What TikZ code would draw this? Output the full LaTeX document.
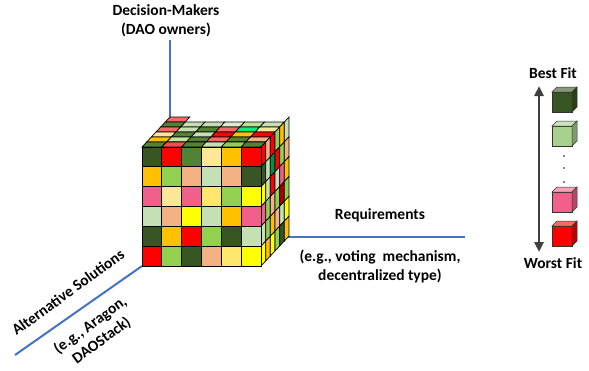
\documentclass[tikz,border=0pt]{standalone}
\usepackage{fontspec}
\setmainfont{Carlito}
\usetikzlibrary{arrows.meta,calc}

\definecolor{dkgreen}{HTML}{375623}
\definecolor{mdgreen}{HTML}{548235}
\definecolor{ltgreen}{HTML}{92D050}
\definecolor{plgreen}{HTML}{C5E0B4}
\definecolor{brgreen}{HTML}{00F07A}
\definecolor{gold}{HTML}{FFC000}
\definecolor{ltyellow}{HTML}{FFE699}
\definecolor{myyellow}{HTML}{FFFF00}
\definecolor{mdyellow}{HTML}{FFE66D}
\definecolor{salmon}{HTML}{F4B183}
\definecolor{pink}{HTML}{F0608A}
\definecolor{myred}{HTML}{FF0000}
\definecolor{fitgreen}{HTML}{A9D18E}
\definecolor{axisblue}{HTML}{4472C4}
\definecolor{arrowgray}{HTML}{404040}

\tikzset{
  lbl/.style={font=\bfseries\fontsize{15.5}{19}\selectfont, align=center, inner sep=0pt},
  cell/.style={draw=black, line width=0.7pt},
  axis/.style={draw=axisblue, line width=2pt},
  fitface/.style={draw=black!80, line width=0.5pt}
}

% small cube of the fit scale: x, y of front top-left corner, colour
\newcommand{\fitcube}[3]{%
  \filldraw[fitface, fill=#3] (#1,#2) rectangle ++(20,20);
  \filldraw[fitface, fill=#3!60!white] (#1,#2) -- ++(5,-5) -- ++(20,0) -- ++(-5,5) -- cycle;
  \filldraw[fitface, fill=#3!75!black] (#1+20,#2) -- ++(5,-5) -- ++(0,20) -- ++(-5,5) -- cycle;
}

\begin{document}
\begin{tikzpicture}[x=1pt, y=-1pt]
  \useasboundingbox (0,0) rectangle (589,370);
  \def\cs{19.83}

  % axes
  \coordinate (axtop) at (170,40);
  \coordinate (axorig) at (170,237);
  \coordinate (axright) at (465,237);
  \coordinate (cubecorner) at (142,266);
  \coordinate (axleft) at (15,355);
  \draw[axis] (axtop) -- (axorig) -- (axright);
  \draw[axis] (cubecorner) -- (axleft);

  % top face (rows from back to front)
  \foreach \c [count=\n from 0] in {
      myred!60, plgreen, plgreen, plgreen!60, ltgreen!60, plgreen,
      mdgreen, plgreen, mdgreen, myred!60, brgreen, ltyellow,
      myred!60, mdgreen, plgreen, myred, gold, myred,
      ltyellow, plgreen, mdgreen, myred!60, mdgreen, salmon,
      gold, plgreen, mdgreen, plgreen, brgreen, mdgreen,
      mdgreen, myred!70, mdgreen, plgreen, ltgreen, mdgreen} {
    \pgfmathtruncatemacro\ci{mod(\n,6)}
    \pgfmathtruncatemacro\k{5-\n/6}
    \filldraw[cell, fill=\c] (142+\ci*\cs+\k*4.667, 147-\k*5) -- ++(\cs,0) -- ++(4.667,-5) -- ++(-\cs,0) -- cycle;
  }

  % right face (columns from front to back)
  \foreach \c [count=\n from 0] in {
      myred, salmon, myred, ltgreen, gold, plgreen,
      dkgreen, plgreen, brgreen!60!black, myred, ltgreen, salmon,
      myyellow, plgreen, myred, plgreen, pink, gold,
      pink, ltgreen, salmon, ltgreen, myred!70!black, ltgreen,
      plgreen, ltgreen, gold, salmon, plgreen, myyellow,
      myyellow, gold, myyellow, ltgreen, dkgreen, gold} {
    \pgfmathtruncatemacro\k{mod(\n,6)}
    \pgfmathtruncatemacro\rj{\n/6}
    \filldraw[cell, fill=\c] (261+\k*4.667, 147+\rj*\cs-\k*5) -- ++(4.667,-5) -- ++(0,\cs) -- ++(-4.667,5) -- cycle;
  }

  % front face
  \foreach \c [count=\n from 0] in {
      dkgreen, myred, mdgreen, ltyellow, gold, myred,
      gold, ltgreen, salmon, plgreen, salmon, dkgreen,
      pink, ltyellow, pink, mdyellow, ltgreen, myyellow,
      plgreen, salmon, myyellow, plgreen, gold, pink,
      dkgreen, gold, myred, ltgreen, dkgreen, plgreen,
      myred, ltgreen, dkgreen, salmon, mdyellow, myyellow} {
    \pgfmathtruncatemacro\ci{mod(\n,6)}
    \pgfmathtruncatemacro\rj{\n/6}
    \filldraw[cell, fill=\c] (142+\ci*\cs, 147+\rj*\cs) rectangle ++(\cs,\cs);
  }

  % axis labels
  \node[lbl] (makers) at (166,21) {Decision-Makers\\(DAO owners)};
  \node[lbl] (req) at (380,215) {Requirements};
  \node[lbl] (reqex) at (380,266) {(e.g., voting~ mechanism,\\decentralized type)};
  \node[lbl, rotate=36] (alt) at (68,292) {Alternative Solutions};
  \node[lbl, rotate=36] (altex) at (96,333) {(e.g., Aragon,\\DAOStack)};

  % fit scale
  \node[lbl] (best) at (553,73) {Best Fit};
  \node[lbl] (worst) at (553,263) {Worst Fit};
  \coordinate (arrtop) at (539,86);
  \coordinate (arrbot) at (539,252);
  \draw[arrowgray, line width=2.5pt, {Triangle[length=10pt,width=9pt]}-{Triangle[length=10pt,width=9pt]}] (arrtop) -- (arrbot);
  \fitcube{552}{92}{dkgreen}
  \fitcube{552}{126}{fitgreen}
  \fitcube{552}{192}{pink}
  \fitcube{552}{226}{myred}
  \foreach \y in {156,168,182}
    \fill[black] (564,\y) circle (0.8);
\end{tikzpicture}
\end{document}
